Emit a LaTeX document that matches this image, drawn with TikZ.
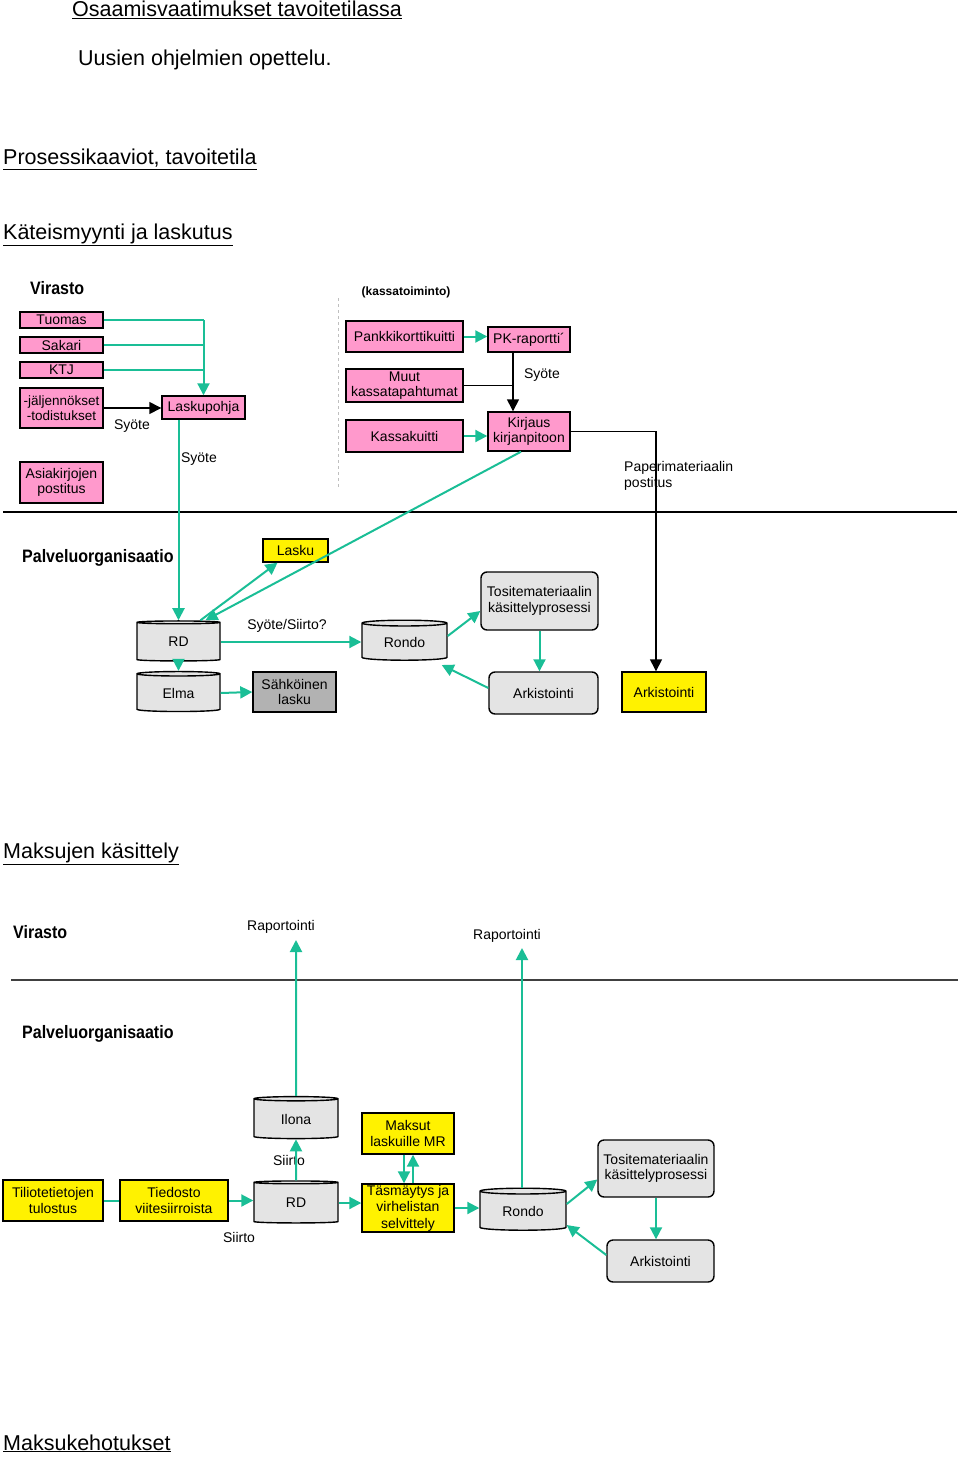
\documentclass[tikz,border=0pt]{standalone}
\usepackage{fontspec}
\setmainfont{Liberation Sans}
\usepackage{tikz}
\usetikzlibrary{shapes,arrows,arrows.meta,positioning}
\definecolor{tealflow}{RGB}{26,190,150}
\definecolor{pinkfill}{RGB}{255,153,204}
\definecolor{drumfill}{RGB}{228,228,228}
\definecolor{darkfill}{RGB}{178,178,178}
\tikzstyle{boxbase} = [
  draw,
  line width=1.4pt,
  align=center,
  inner sep=0pt,
  font=\fontsize{14}{15.5}\selectfont]
\tikzstyle{pinkbox} = [boxbase, fill=pinkfill]
\tikzstyle{yellowbox} = [boxbase, fill=yellow]
\tikzstyle{darkbox} = [boxbase, fill=darkfill]
\tikzstyle{procbox} = [boxbase, fill=drumfill, rounded corners=6pt]
\tikzstyle{drum} = [
  boxbase,
  fill=drumfill,
  shape=cylinder,
  shape border rotate=90,
  aspect=0.14]
\tikzstyle{tealline} = [draw=tealflow, line width=2pt]
\tikzstyle{tealarrow} = [tealline, -{Triangle[length=12pt,width=12pt]}]
\tikzstyle{blackarrow} = [line width=1.4pt, -{Triangle[length=12pt,width=12pt]}]
\tikzstyle{lbl} = [inner sep=0pt, font=\fontsize{14}{15.5}\selectfont]
\tikzstyle{heading} = [anchor=base west, inner sep=0pt, font=\fontsize{21.5}{24}\selectfont]
\tikzstyle{lane} = [anchor=base west, inner sep=0pt, font=\fontsize{18}{20}\selectfont\bfseries]
\newcommand{\narrow}[1]{\scalebox{0.89}[1]{#1}}

\begin{document}
\begin{tikzpicture}[x=1pt, y=-1pt]
  \useasboundingbox (0,0) rectangle (960,1458);

  \node[heading] (h1) at (72,17) {\underline{Osaamisvaatimukset tavoitetilassa}};
  \node[heading] (h2) at (78,66) {Uusien ohjelmien opettelu.};
  \node[heading] (h3) at (3,165) {\underline{Prosessikaaviot, tavoitetila}};
  \node[heading] (h4) at (3,239) {\underline{Käteismyynti ja laskutus}};

  % Käteismyynti: Virasto
  \node[lane] (vir1) at (30,294) {\narrow{Virasto}};
  \node[inner sep=0pt, font=\fontsize{12}{13}\selectfont\bfseries] (kassa) at (406,292) {(kassatoiminto)};
  \draw[black!25, dashed] (338,298) -- (338,487);

  \node[pinkbox, minimum width=83pt, minimum height=16pt] (tuomas) at (61.5,320) {Tuomas};
  \node[pinkbox, minimum width=83pt, minimum height=16pt] (sakari) at (61.5,345) {Sakari};
  \node[pinkbox, minimum width=83pt, minimum height=16pt] (ktj) at (61.5,370) {KTJ};
  \node[pinkbox, minimum width=83pt, minimum height=40pt, font=\fontsize{13.5}{15.5}\selectfont] (jalj) at (61.5,408) {-jäljennökset\\-todistukset};
  \node[pinkbox, minimum width=83pt, minimum height=41pt] (asiak) at (61.5,482.5) {Asiakirjojen\\postitus};
  \node[pinkbox, minimum width=83pt, minimum height=23pt] (laskupohja) at (203.5,407.5) {Laskupohja};

  \node[pinkbox, minimum width=117pt, minimum height=31pt] (pankki) at (404.5,336.5) {Pankkikorttikuitti};
  \node[pinkbox, minimum width=82pt, minimum height=25pt] (pkrap) at (529,339.5) {PK-raportti´};
  \node[pinkbox, minimum width=117pt, minimum height=33pt] (muut) at (404.5,385.5) {Muut\\kassatapahtumat};
  \node[pinkbox, minimum width=117pt, minimum height=32pt] (kassak) at (404.5,436) {Kassakuitti};
  \node[pinkbox, minimum width=82pt, minimum height=39pt] (kirjaus) at (529,431.5) {Kirjaus\\kirjanpitoon};

  \node[lbl] (syo1) at (132,426) {Syöte};
  \node[lbl] (syo2) at (199,459) {Syöte};
  \node[lbl] (syo3) at (542,375) {Syöte};
  \node[lbl, anchor=west, align=left] (paper) at (624,476) {Paperimateriaalin\\postitus};

  \draw[black, line width=1.4pt] (3,512) -- (957,512);

  % Käteismyynti: Palveluorganisaatio
  \node[lane] (pal1) at (22,562) {\narrow{Palveluorganisaatio}};
  \node[yellowbox, minimum width=65pt, minimum height=23pt] (lasku) at (295.5,550.5) {Lasku};
  \node[drum, minimum width=83pt, minimum height=40pt] (rd) at (178.5,642) {RD};
  \node[drum, minimum width=83pt, minimum height=40pt] (elma) at (178.5,693) {Elma};
  \node[darkbox, minimum width=83pt, minimum height=40pt] (sahk) at (294.5,692) {Sähköinen\\lasku};
  \node[drum, minimum width=85pt, minimum height=40pt] (rondo) at (404.5,642) {Rondo};
  \node[procbox, minimum width=117pt, minimum height=58pt] (tosite) at (539.5,601) {Tositemateriaalin\\käsittelyprosessi};
  \node[procbox, minimum width=109pt, minimum height=42pt] (ark) at (543.5,693) {Arkistointi};
  \node[yellowbox, minimum width=84pt, minimum height=40pt] (arkY) at (664,692) {Arkistointi};
  \node[lbl] (syosi) at (287,626) {Syöte/Siirto?};

  \coordinate (kjin) at ([xshift=-16pt]kirjaus.north);
  \draw[tealline] (tuomas.east) -- (tuomas.east -| laskupohja.north);
  \draw[tealline] (sakari.east) -- (sakari.east -| laskupohja.north);
  \draw[tealline] (ktj.east) -- (ktj.east -| laskupohja.north);
  \draw[tealarrow] (tuomas.east -| laskupohja.north) -- (laskupohja.north);
  \draw[blackarrow] (jalj.east) -- (jalj.east -| laskupohja.west);
  \draw[tealarrow] (laskupohja.south -| rd.north) -- (rd.north);
  \draw[tealarrow] (pankki.east) -- (pankki.east -| pkrap.west);
  \draw[blackarrow] ([xshift=-16pt]pkrap.south) -- (kjin);
  \draw[line width=1.4pt] (muut.east) -- (muut.east -| kjin);
  \draw[tealarrow] (kassak.east) -- (kassak.east -| kirjaus.west);
  \draw[blackarrow] (kirjaus.east) -| ([xshift=-8pt]arkY.north);
  \draw[tealarrow] ([xshift=-8pt]kirjaus.south) -- ([xshift=27pt]rd.north);
  \draw[tealarrow] ([xshift=22pt]rd.north) -- ([xshift=-18pt]lasku.south);
  \draw[tealarrow] (rd.east) -- (rd.east -| rondo.west);
  \draw[tealarrow] (rd.south) -- (elma.north);
  \draw[tealarrow] (elma.east) -- (sahk.west);
  \draw[tealarrow] ([yshift=6pt]rondo.east) -- ([yshift=-10pt]tosite.west);
  \draw[tealarrow] (tosite.south) -- (tosite.south |- ark.north);
  \draw[tealarrow] ([yshift=5pt]ark.west) -- ([xshift=-6pt,yshift=-23pt]rondo.east);

  % Maksujen käsittely
  \node[heading] (h5) at (3,858) {\underline{Maksujen käsittely}};
  \node[lane] (vir2) at (13,938) {\narrow{Virasto}};
  \node[lbl] (rap1) at (281,927) {Raportointi};
  \node[lbl] (rap2) at (507,936) {Raportointi};
  \draw[black!75, line width=1.2pt] (11,980) -- (958,980);
  \node[lane] (pal2) at (22,1038) {\narrow{Palveluorganisaatio}};

  \node[drum, minimum width=84pt, minimum height=42pt] (ilona) at (296,1119) {Ilona};
  \node[drum, minimum width=84pt, minimum height=42pt] (rdB) at (296,1203) {RD};
  \node[yellowbox, minimum width=100pt, minimum height=41pt] (tilio) at (53,1200.5) {Tiliotetietojen\\tulostus};
  \node[yellowbox, minimum width=108pt, minimum height=41pt] (tiedosto) at (174,1200.5) {Tiedosto\\viitesiirroista};
  \node[yellowbox, minimum width=92pt, minimum height=41pt] (maksut) at (408,1133.5) {Maksut\\laskuille MR};
  \node[yellowbox, minimum width=92pt, minimum height=48pt, font=\fontsize{14}{16.5}\selectfont] (tasm) at (408,1208) {Täsmäytys ja\\virhelistan\\selvittely};
  \node[drum, minimum width=86pt, minimum height=42pt] (rondoB) at (523,1211) {Rondo};
  \node[procbox, minimum width=116pt, minimum height=57pt] (tositeB) at (656,1168.5) {Tositemateriaalin\\käsittelyprosessi};
  \node[procbox, minimum width=107pt, minimum height=42pt] (arkB) at (660.5,1261) {Arkistointi};
  \node[lbl] (sii1) at (289,1160) {Siirto};
  \node[lbl] (sii2) at (239,1237) {Siirto};

  \coordinate (rep1) at (296,940);
  \coordinate (rep2) at (522,948);
  \draw[tealline] (tilio.east) -- (tiedosto.west);
  \draw[tealarrow] (tiedosto.east) -- (tiedosto.east -| rdB.west);
  \draw[tealarrow] (rdB.north) -- (ilona.south);
  \draw[tealarrow] (ilona.north) -- (rep1);
  \draw[tealarrow] (rdB.east) -- (rdB.east -| tasm.west);
  \draw[tealarrow] ([xshift=-4pt]maksut.south) -- ([xshift=-4pt]tasm.north);
  \draw[tealarrow] ([xshift=5pt]tasm.north) -- ([xshift=5pt]maksut.south);
  \draw[tealarrow] (tasm.east) -- (tasm.east -| rondoB.west);
  \draw[tealarrow] (rondoB.north -| rep2) -- (rep2);
  \draw[tealarrow] ([yshift=7pt]rondoB.east) -- ([yshift=-11pt]tositeB.west);
  \draw[tealarrow] (tositeB.south) -- (tositeB.south |- arkB.north);
  \draw[tealarrow] ([yshift=6pt]arkB.west) -- ([yshift=-14pt]rondoB.east);

  \node[heading] (h6) at (3,1450) {\underline{Maksukehotukset}};
\end{tikzpicture}
\end{document}
